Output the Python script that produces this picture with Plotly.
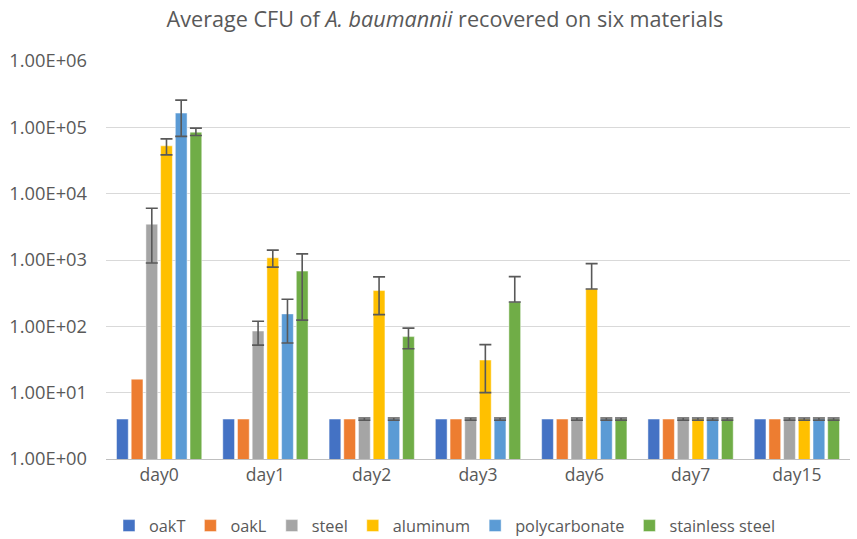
import plotly.graph_objects as go

categories = ["day0", "day1", "day2", "day3", "day6", "day7", "day15"]
series_names = ["oakT", "oakL", "steel", "aluminum", "polycarbonate", "stainless steel"]
colors = ["#4472C4", "#ED7D31", "#A5A5A5", "#FFC000", "#5B9BD5", "#70AD47"]

oakT = [4, 4, 4, 4, 4, 4, 4]
oakL = [16, 4, 4, 4, 4, 4, 4]
steel = [3470, 85, 4, 4, 4, 4, 4]
aluminum = [52600, 1080, 346, 31, 366, 4, 4]
polycarbonate = [164000, 154, 4, 4, 4, 4, 4]
stainless_steel = [84600, 680, 70, 233, 4, 4, 4]

# error bars (plus / minus)
oakT_err_plus = [0, 0, 0, 0, 0, 0, 0]
oakT_err_minus = [0, 0, 0, 0, 0, 0, 0]
oakL_err_plus = [0, 0, 0, 0, 0, 0, 0]
oakL_err_minus = [0, 0, 0, 0, 0, 0, 0]
steel_err_plus = [2570, 34, 0.15, 0.15, 0.15, 0.15, 0.15]
steel_err_minus = [2570, 33, 0.15, 0.15, 0.15, 0.15, 0.15]
aluminum_err_plus = [14300, 330, 210, 22, 517, 0.15, 0.15]
aluminum_err_minus = [14200, 300, 196, 21, 0, 0.15, 0.15]
polycarbonate_err_plus = [93000, 102, 0.15, 0.15, 0.15, 0.15, 0.15]
polycarbonate_err_minus = [91000, 98, 0.15, 0.15, 0.15, 0.15, 0.15]
stainless_steel_err_plus = [12700, 556, 24, 329, 0.15, 0.15, 0.15]
stainless_steel_err_minus = [9400, 556, 24, 0, 0.15, 0.15, 0.15]

tick_vals = [1, 10, 100, 1000, 10000, 100000, 1000000]
tick_text = ["1.00E+00", "1.00E+01", "1.00E+02", "1.00E+03", "1.00E+04", "1.00E+05", "1.00E+06"]

values = [oakT, oakL, steel, aluminum, polycarbonate, stainless_steel]
errs_plus = [oakT_err_plus, oakL_err_plus, steel_err_plus, aluminum_err_plus,
             polycarbonate_err_plus, stainless_steel_err_plus]
errs_minus = [oakT_err_minus, oakL_err_minus, steel_err_minus, aluminum_err_minus,
              polycarbonate_err_minus, stainless_steel_err_minus]
has_err = [False, False, True, True, True, True]

FONT = "Open Sans"
TXT = "#595959"
W, H = 857, 539
fig = go.Figure()
for name, col, vals, ep, em, he in zip(series_names, colors, values, errs_plus, errs_minus, has_err):
    kw = {}
    if he:
        kw["error_y"] = dict(type="data", symmetric=False, array=ep, arrayminus=em,
                             color="#595959", thickness=1.6, width=6)
    fig.add_trace(go.Bar(x=categories, y=vals, name=name,
                         marker=dict(color=col, line=dict(color="rgba(255,255,255,0.6)", width=0.8)),
                         **kw))

fig.update_layout(
    template="none",
    width=W, height=H,
    margin=dict(l=106, r=7, t=61, b=80),
    paper_bgcolor="white", plot_bgcolor="white",
    barmode="group", bargap=0.17, bargroupgap=0.2,
    title=dict(text="Average CFU of <i>A. baumannii</i> recovered on six materials",
               x=445 / W, xanchor="center", xref="container",
               y=1 - 19 / H, yanchor="middle", yref="container",
               font=dict(family=FONT, size=21.6, color=TXT)),
    font=dict(family=FONT, size=16, color=TXT),
    xaxis=dict(showline=True, linecolor="#BFBFBF", linewidth=1, ticks="",
               tickfont=dict(size=17.5, color=TXT), showgrid=False, automargin=False,
               zeroline=False),
    yaxis=dict(type="log", range=[0, 6], tickvals=tick_vals, ticktext=tick_text,
               showgrid=True, gridcolor="#D9D9D9", gridwidth=1, zeroline=False,
               showline=False, ticks="", ticklabelstandoff=18, automargin=False,
               tickfont=dict(size=18.3, color=TXT)),
    legend=dict(orientation="h", x=445 / W, xanchor="center", xref="container",
                y=1 - 526 / H, yanchor="middle", yref="container",
                font=dict(size=16.3, color=TXT), itemwidth=30, traceorder="normal"),
)

# remove the browser's default 8px body margin so the figure fills the window
fig.write_html("out.html", config={"displayModeBar": False},
               post_script="document.body.style.margin='0';")
